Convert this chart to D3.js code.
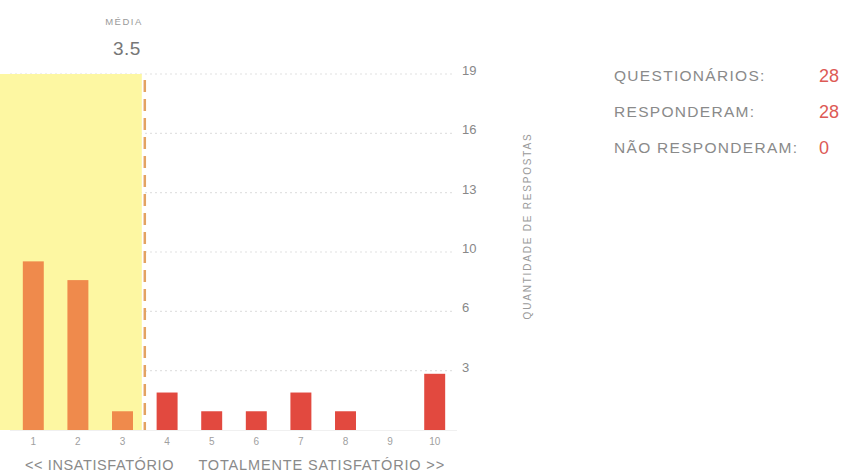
<!DOCTYPE html>
<html>
<head>
<meta charset="utf-8">
<script src="https://cdn.jsdelivr.net/npm/d3@7/dist/d3.min.js"></script>
<style>
  html, body { margin: 0; padding: 0; background: #fff; }
  svg { display: block; font-family: "Liberation Sans", Arial, sans-serif; }
</style>
</head>
<body>
<svg id="chart" width="850" height="476"></svg>
<script>
// ---- data ----
const categories = ["1", "2", "3", "4", "5", "6", "7", "8", "9", "10"];
const counts = [9, 8, 1, 2, 1, 1, 2, 1, 0, 3];
const yTickLabels = ["3", "6", "10", "13", "16", "19"];
const yMax = 19;
const meanValue = 3.5;
const statLabels = ["QUESTIONÁRIOS:", "RESPONDERAM:", "NÃO RESPONDERAM:"];
const statValues = ["28", "28", "0"];
const bottomLabels = ["<< INSATISFATÓRIO", "TOTALMENTE SATISFATÓRIO >>"];

// ---- layout ----
const svg = d3.select("#chart");
const baseY = 430, topY = 74;

const x = d3.scaleBand().domain(categories).range([11, 457])
  .paddingInner(0.53).paddingOuter(0.265);
const y = d3.scaleLinear().domain([0, yMax]).range([baseY, topY]);
const xNum = d3.scaleLinear().domain([1, 10])
  .range([x("1") + x.bandwidth() / 2, x("10") + x.bandwidth() / 2]);

const tickVals = yTickLabels.map((d, i) => (i + 1) * yMax / yTickLabels.length);

// gridlines
svg.append("g").selectAll("line").data(tickVals).join("line")
  .attr("x1", 10).attr("x2", 455)
  .attr("y1", d => y(d)).attr("y2", d => y(d))
  .attr("stroke", "#e2e2e2").attr("stroke-width", 1.2)
  .attr("stroke-dasharray", "2,3");
svg.append("line").attr("x1", 10).attr("x2", 457)
  .attr("y1", baseY + 0.5).attr("y2", baseY + 0.5)
  .attr("stroke", "#f0f0f0");

// yellow area up to mean
const mx = xNum(meanValue);
svg.append("rect").attr("x", 0).attr("y", y(yMax))
  .attr("width", mx - 3).attr("height", baseY - y(yMax))
  .attr("fill", "#fdf7a2");

// bars
svg.append("g").selectAll("rect").data(counts).join("rect")
  .attr("x", (d, i) => x(categories[i]))
  .attr("width", x.bandwidth())
  .attr("y", d => y(d))
  .attr("height", d => baseY - y(d))
  .attr("fill", (d, i) => (+categories[i] < meanValue) ? "#ef8a4c" : "#e2493f");

// mean dashed line
svg.append("line").attr("x1", mx).attr("x2", mx)
  .attr("y1", y(yMax) + 6).attr("y2", baseY)
  .attr("stroke", "#e3a262").attr("stroke-width", 2.5)
  .attr("stroke-dasharray", "12,7");

svg.append("text").attr("x", mx - 2).attr("y", 25)
  .attr("text-anchor", "end").attr("font-size", 9.5)
  .attr("letter-spacing", 1.5).attr("fill", "#9a9a9a").text("MÉDIA");
svg.append("text").attr("x", mx - 4).attr("y", 55)
  .attr("text-anchor", "end").attr("font-size", 19)
  .attr("letter-spacing", 0.5).attr("fill", "#777").text(meanValue.toFixed(1));

// y tick labels
svg.append("g").selectAll("text").data(yTickLabels).join("text")
  .attr("x", 462).attr("y", (d, i) => y(tickVals[i]) + 1)
  .attr("font-size", 13).attr("fill", "#888").text(d => d);

// y axis title
svg.append("text")
  .attr("transform", `translate(531,226) rotate(-90)`)
  .attr("text-anchor", "middle").attr("font-size", 10)
  .attr("letter-spacing", 1.8).attr("fill", "#9a9a9a")
  .text("QUANTIDADE DE RESPOSTAS");

// x tick labels
svg.append("g").selectAll("text").data(categories).join("text")
  .attr("x", d => x(d) + x.bandwidth() / 2).attr("y", 445)
  .attr("text-anchor", "middle").attr("font-size", 10)
  .attr("fill", "#a0a0a0").text(d => d);

// bottom labels
svg.append("text").attr("x", 25).attr("y", 470)
  .attr("font-size", 14.5).attr("letter-spacing", 0.6)
  .attr("fill", "#8a8a8a").text(bottomLabels[0]);
svg.append("text").attr("x", 445).attr("y", 470).attr("text-anchor", "end")
  .attr("font-size", 14.5).attr("letter-spacing", 0.85)
  .attr("fill", "#8a8a8a").text(bottomLabels[1]);

// stats panel
const sg = svg.append("g");
sg.selectAll("text.lab").data(statLabels).join("text").attr("class", "lab")
  .attr("x", 614).attr("y", (d, i) => 80.5 + i * 36)
  .attr("font-size", 15.5).attr("letter-spacing", 1.3)
  .attr("fill", "#8a8a8a").text(d => d);
sg.selectAll("text.val").data(statValues).join("text").attr("class", "val")
  .attr("x", 819).attr("y", (d, i) => 81.5 + i * 36)
  .attr("font-size", 18).attr("fill", "#dd5a55").text(d => d);
</script>
</body>
</html>
